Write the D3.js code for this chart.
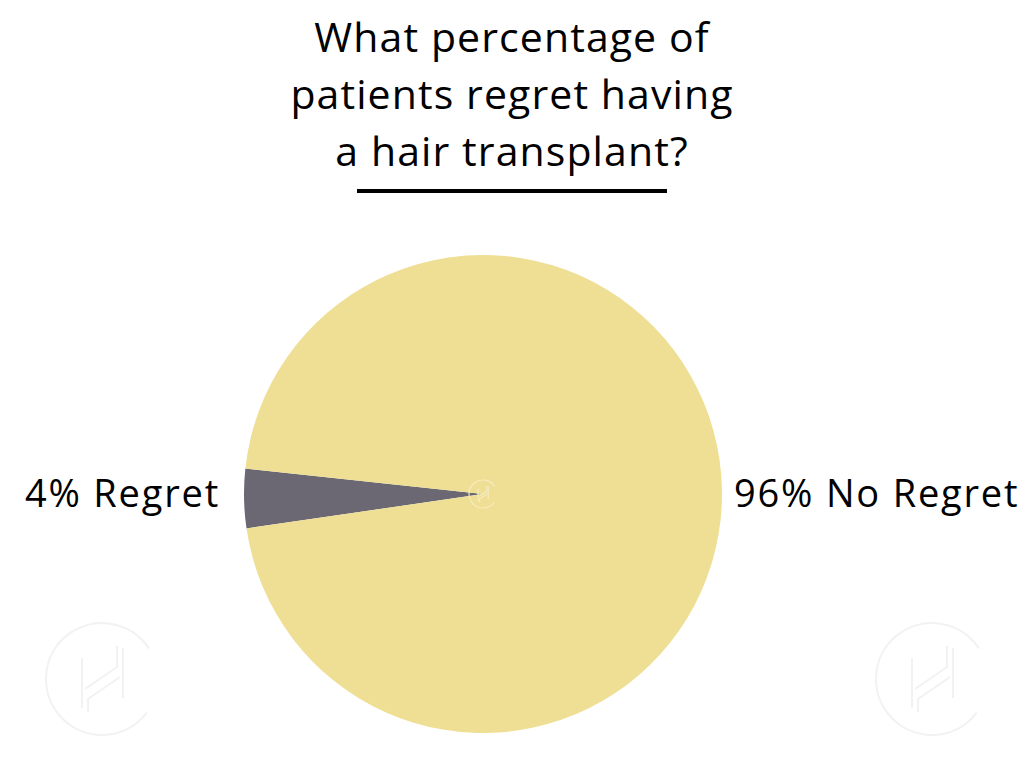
<!DOCTYPE html>
<html><head><meta charset="utf-8">
<script src="https://cdn.jsdelivr.net/npm/d3@7"></script>
<style>body{margin:0;background:#fff}svg{display:block}</style>
</head><body>
<svg id="chart" width="1024" height="768"></svg>
<script>
const categories = ["Regret", "No Regret"];
const values = [4, 96];
const labels = ["4% Regret", "96% No Regret"];
const colors = ["#6B6873", "#EEDF94"];
const titleLines = ["What percentage of", "patients regret having", "a hair transplant?"];

const svg = d3.select("#chart");
const font = "'Open Sans', sans-serif";

// watermarks
function logo(g, cx, cy, r, col, sw) {
  const grp = g.append("g").attr("transform", `translate(${cx},${cy})`)
    .attr("fill", "none").attr("stroke", col).attr("stroke-width", sw);
  grp.append("path").attr("d", d3.arc()({innerRadius: r, outerRadius: r,
    startAngle: 127 * Math.PI / 180, endAngle: 417 * Math.PI / 180}));
  const s = r / 56;
  const p = (pts) => grp.append("path").attr("d", d3.line()(pts.map(q => [q[0]*s, q[1]*s])));
  p([[-20,-21],[-20,29]]);
  p([[21,-31],[21,19]]);
  p([[-17,10],[15,-12],[15,-33]]);
  p([[-14,33],[-14,20],[18,-2]]);
}
logo(svg, 102, 679, 56, "#f2f2f2", 2);
logo(svg, 932, 679, 56, "#f2f2f2", 2);

// title
const title = svg.append("text").attr("text-anchor", "middle")
  .attr("font-family", font).attr("font-size", 41).attr("letter-spacing", 1.1).attr("fill", "#000");
titleLines.forEach((t, i) => title.append("tspan").attr("x", 512).attr("y", 52 + i*57).text(t));
svg.append("line").attr("x1", 357).attr("x2", 667).attr("y1", 191).attr("y2", 191)
  .attr("stroke", "#000").attr("stroke-width", 4);

// pie
const cx = 483, cy = 494, R = 239;
const sliceA = values[0] / d3.sum(values) * 2 * Math.PI;
const centerA = 1.5 * Math.PI - 0.019;
const pie = d3.pie().sort(null).value(d => d)
  .startAngle(centerA - sliceA/2).endAngle(centerA - sliceA/2 + 2*Math.PI);
const arc = d3.arc().innerRadius(0).outerRadius(R);
const g = svg.append("g").attr("transform", `translate(${cx},${cy})`);
g.selectAll("path").data(pie(values)).enter().append("path")
  .attr("d", arc).attr("fill", (d, i) => colors[i]);
logo(svg, cx, cy, 14, "#f6ecbd", 1.2);

// labels
svg.append("text").attr("x", 220).attr("y", 507).attr("text-anchor", "end")
  .attr("font-family", font).attr("font-size", 38).attr("letter-spacing", 1.8).attr("fill", "#000").text(labels[0]);
svg.append("text").attr("x", 734).attr("y", 507).attr("text-anchor", "start")
  .attr("font-family", font).attr("font-size", 38).attr("letter-spacing", 1.8).attr("fill", "#000").text(labels[1]);
</script>
</body></html>
